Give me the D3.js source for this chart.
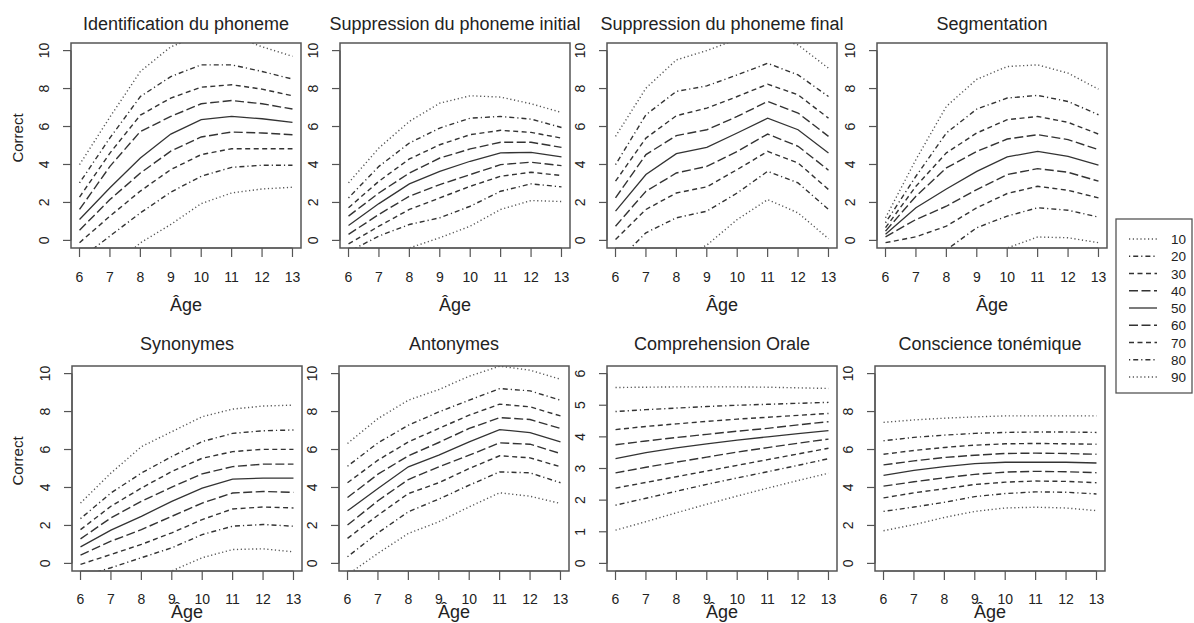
<!DOCTYPE html>
<html>
<head>
<meta charset="utf-8">
<script src="https://cdn.jsdelivr.net/npm/d3@7"></script>
<style>
  body { margin: 0; background: #fff; }
  svg { display: block; }
  text { font-family: "Liberation Sans", Arial, sans-serif; fill: #222; }
</style>
</head>
<body>
<script>
// ---------- DATA ----------
const ages = [6, 7, 8, 9, 10, 11, 12, 13];
const percentiles = [10, 20, 30, 40, 50, 60, 70, 80, 90];
const panelTitles = [
  "Identification du phoneme", "Suppression du phoneme initial",
  "Suppression du phoneme final", "Segmentation",
  "Synonymes", "Antonymes", "Comprehension Orale", "Conscience tonémique"
];
const yTicks10 = [0, 2, 4, 6, 8, 10];
const yTicks6 = [0, 1, 2, 3, 4, 5, 6];
const xTickLabels = ["6", "7", "8", "9", "10", "11", "12", "13"];
const legendLabels = ["10", "20", "30", "40", "50", "60", "70", "80", "90"];

// each array: rows = percentiles 10..90, columns = ages 6..13
const identificationPhoneme = [
  [-2.8, -1.5, -0.13, 0.84, 1.94, 2.5, 2.71, 2.8],
  [-1.0, 0.23, 1.45, 2.54, 3.38, 3.85, 3.96, 3.96],
  [-0.12, 1.28, 2.6, 3.73, 4.52, 4.83, 4.83, 4.83],
  [0.54, 2.15, 3.55, 4.7, 5.45, 5.71, 5.66, 5.57],
  [1.1, 2.77, 4.34, 5.6, 6.36, 6.53, 6.41, 6.22],
  [1.63, 3.9, 5.74, 6.53, 7.2, 7.37, 7.2, 6.92],
  [2.28, 4.6, 6.6, 7.5, 8.07, 8.2, 7.97, 7.62],
  [3.03, 5.4, 7.58, 8.63, 9.25, 9.25, 8.9, 8.5],
  [3.99, 6.5, 8.9, 10.2, 10.8, 10.8, 10.2, 9.7]
];
const suppressionInitial = [
  [-2.0, -1.2, -0.4, 0.14, 0.75, 1.63, 2.1, 2.05],
  [-0.6, 0.23, 0.84, 1.19, 1.8, 2.59, 2.98, 2.82],
  [-0.18, 0.75, 1.63, 2.24, 2.85, 3.38, 3.59, 3.42],
  [0.32, 1.37, 2.33, 2.94, 3.47, 3.99, 4.12, 3.94],
  [0.79, 1.94, 2.98, 3.64, 4.17, 4.61, 4.64, 4.4],
  [1.28, 2.5, 3.55, 4.34, 4.82, 5.17, 5.17, 4.9],
  [1.72, 3.12, 4.29, 5.04, 5.57, 5.8, 5.69, 5.39],
  [2.24, 3.9, 5.13, 5.92, 6.44, 6.53, 6.39, 5.95],
  [3.03, 4.87, 6.27, 7.23, 7.62, 7.55, 7.2, 6.74]
];
const suppressionFinal = [
  [-3.0, -1.8, -1.0, -0.25, 1.1, 2.15, 1.45, 0.09],
  [-1.2, 0.4, 1.19, 1.54, 2.5, 3.64, 3.03, 1.63],
  [0.05, 1.63, 2.5, 2.82, 3.73, 4.69, 4.08, 2.68],
  [0.75, 2.59, 3.55, 3.9, 4.69, 5.6, 4.96, 3.7],
  [1.54, 3.47, 4.57, 4.9, 5.66, 6.44, 5.83, 4.61],
  [2.24, 4.52, 5.52, 5.83, 6.53, 7.32, 6.71, 5.48],
  [3.12, 5.39, 6.57, 6.97, 7.58, 8.23, 7.67, 6.44],
  [3.99, 6.62, 7.85, 8.14, 8.72, 9.33, 8.72, 7.58],
  [5.48, 8.02, 9.51, 10.0, 10.6, 10.8, 10.3, 9.07]
];
const segmentation = [
  [-3.6, -2.8, -2.0, -1.2, -0.4, 0.18, 0.14, -0.12],
  [-2.5, -1.5, -0.5, 0.67, 1.28, 1.72, 1.59, 1.23],
  [-0.12, 0.19, 0.75, 1.72, 2.47, 2.85, 2.64, 2.24],
  [0.19, 1.1, 1.8, 2.68, 3.47, 3.78, 3.59, 3.12],
  [0.32, 1.72, 2.71, 3.64, 4.4, 4.69, 4.43, 3.96],
  [0.49, 2.33, 3.82, 4.69, 5.34, 5.57, 5.31, 4.78],
  [0.67, 2.85, 4.61, 5.66, 6.36, 6.53, 6.22, 5.6],
  [0.93, 3.38, 5.66, 6.92, 7.5, 7.64, 7.32, 6.62],
  [1.19, 4.26, 7.06, 8.49, 9.16, 9.25, 8.81, 7.97]
];
const synonymes = [
  [-2.8, -2.0, -1.2, -0.4, 0.3, 0.73, 0.77, 0.61],
  [-0.7, -0.23, 0.3, 0.82, 1.52, 1.96, 2.05, 1.96],
  [-0.05, 0.47, 1.0, 1.61, 2.31, 2.87, 2.97, 2.92],
  [0.44, 1.17, 1.78, 2.48, 3.18, 3.71, 3.79, 3.74],
  [0.87, 1.75, 2.48, 3.27, 3.97, 4.44, 4.49, 4.49],
  [1.29, 2.4, 3.27, 4.02, 4.72, 5.1, 5.23, 5.23],
  [1.78, 3.01, 3.97, 4.84, 5.54, 5.89, 6.01, 6.01],
  [2.36, 3.71, 4.76, 5.63, 6.42, 6.85, 6.99, 7.03],
  [3.18, 4.76, 6.15, 6.94, 7.73, 8.13, 8.29, 8.34]
];
const antonymes = [
  [-0.6, 0.53, 1.58, 2.19, 2.98, 3.72, 3.54, 3.16],
  [0.35, 1.61, 2.72, 3.39, 4.12, 4.82, 4.77, 4.25],
  [1.32, 2.54, 3.68, 4.25, 5.0, 5.67, 5.56, 5.09],
  [2.02, 3.3, 4.42, 5.09, 5.7, 6.35, 6.28, 5.79],
  [2.77, 3.95, 5.09, 5.7, 6.4, 7.05, 6.89, 6.4],
  [3.47, 4.7, 5.67, 6.37, 7.11, 7.68, 7.58, 7.11],
  [4.25, 5.44, 6.4, 7.11, 7.81, 8.39, 8.25, 7.77],
  [5.12, 6.35, 7.28, 7.98, 8.6, 9.21, 9.09, 8.6],
  [6.32, 7.63, 8.6, 9.16, 9.86, 10.39, 10.18, 9.7]
];
const comprehensionOrale = [
  [1.05, 1.32, 1.6, 1.87, 2.13, 2.38, 2.62, 2.85],
  [1.84, 2.06, 2.28, 2.5, 2.7, 2.9, 3.1, 3.31],
  [2.38, 2.56, 2.74, 2.92, 3.1, 3.28, 3.46, 3.64],
  [2.86, 3.04, 3.2, 3.36, 3.52, 3.66, 3.8, 3.93],
  [3.31, 3.5, 3.65, 3.78, 3.9, 4.0, 4.1, 4.2],
  [3.75, 3.87, 3.98, 4.08, 4.18, 4.27, 4.38, 4.48],
  [4.23, 4.33, 4.41, 4.49, 4.56, 4.62, 4.68, 4.74],
  [4.8, 4.86, 4.91, 4.96, 5.0, 5.03, 5.06, 5.09],
  [5.56, 5.57, 5.58, 5.58, 5.58, 5.57, 5.55, 5.53]
];
const conscienceTonemique = [
  [1.72, 2.04, 2.42, 2.74, 2.92, 2.96, 2.92, 2.78],
  [2.74, 2.97, 3.22, 3.52, 3.68, 3.77, 3.75, 3.66],
  [3.45, 3.72, 3.93, 4.16, 4.28, 4.34, 4.32, 4.25],
  [4.07, 4.3, 4.51, 4.69, 4.81, 4.85, 4.83, 4.78],
  [4.64, 4.9, 5.1, 5.26, 5.33, 5.33, 5.33, 5.29],
  [5.19, 5.4, 5.58, 5.7, 5.79, 5.81, 5.79, 5.75],
  [5.75, 5.95, 6.11, 6.23, 6.3, 6.32, 6.3, 6.28],
  [6.46, 6.64, 6.76, 6.85, 6.9, 6.92, 6.92, 6.9],
  [7.43, 7.56, 7.65, 7.72, 7.77, 7.77, 7.77, 7.77]
];

// ---------- LAYOUT / STYLE ----------
const W = 1194, H = 623;
const panels = [
  { title: panelTitles[0], data: identificationPhoneme, ymax: 10, ticks: yTicks10 },
  { title: panelTitles[1], data: suppressionInitial, ymax: 10, ticks: yTicks10 },
  { title: panelTitles[2], data: suppressionFinal, ymax: 10, ticks: yTicks10 },
  { title: panelTitles[3], data: segmentation, ymax: 10, ticks: yTicks10 },
  { title: panelTitles[4], data: synonymes, ymax: 10, ticks: yTicks10 },
  { title: panelTitles[5], data: antonymes, ymax: 10, ticks: yTicks10 },
  { title: panelTitles[6], data: comprehensionOrale, ymax: 6, ticks: yTicks6 },
  { title: panelTitles[7], data: conscienceTonemique, ymax: 10, ticks: yTicks10 }
];
const rows = [
  { top: 43, bottom: 248, lefts: [71, 340, 607, 877], titleY: 30, tickY: 282, ageY: 311, correctY: 138 },
  { top: 366, bottom: 571, lefts: [72, 339, 607, 875], titleY: 350, tickY: 604, ageY: 618, correctY: 461 }
];
const boxW = 230;
const dashes = {
  solid: null,
  dotted: "1.2,2.6",
  dotdash: "1.2,3,5,3",
  dashed: "5,3.5",
  longdash: "9,3.5"
};
const lineTypes = ["dotted", "dotdash", "dashed", "longdash", "solid", "longdash", "dashed", "dotdash", "dotted"];
const boxColor = "#555";
const lineColor = "#333";

const svg = d3.select("body").append("svg").attr("width", W).attr("height", H);
const defs = svg.append("defs");

panels.forEach((p, i) => {
  const row = rows[Math.floor(i / 4)];
  const left = row.lefts[i % 4];
  const pad = p.ymax * 0.04;
  const x = d3.scaleLinear().domain([5.72, 13.28]).range([left, left + boxW]);
  const y = d3.scaleLinear().domain([-pad, p.ymax + pad]).range([row.bottom, row.top]);
  const g = svg.append("g");

  const clipId = "clip" + i;
  defs.append("clipPath").attr("id", clipId)
    .append("rect").attr("x", left).attr("y", row.top)
    .attr("width", boxW).attr("height", row.bottom - row.top);

  // lines
  const line = d3.line().x((d, k) => x(ages[k])).y(d => y(d));
  const lg = g.append("g").attr("clip-path", `url(#${clipId})`);
  p.data.forEach((series, s) => {
    const lt = lineTypes[s];
    lg.append("path")
      .attr("d", line(series))
      .attr("fill", "none")
      .attr("stroke", lt === "dotted" ? "#555" : lineColor)
      .attr("stroke-width", lt === "solid" ? 1.3 : 1.4)
      .attr("stroke-dasharray", dashes[lt]);
  });

  // box
  g.append("rect").attr("x", left).attr("y", row.top)
    .attr("width", boxW).attr("height", row.bottom - row.top)
    .attr("fill", "none").attr("stroke", boxColor).attr("stroke-width", 1.5);

  // x axis
  const xa = g.append("g");
  xa.append("line").attr("x1", x(ages[0])).attr("x2", x(ages[ages.length - 1]))
    .attr("y1", row.bottom).attr("y2", row.bottom).attr("stroke", boxColor).attr("stroke-width", 1.2);
  ages.forEach((a, k) => {
    xa.append("line").attr("x1", x(a)).attr("x2", x(a))
      .attr("y1", row.bottom).attr("y2", row.bottom + 9)
      .attr("stroke", boxColor).attr("stroke-width", 1.2);
    xa.append("text").attr("x", x(a)).attr("y", row.tickY)
      .attr("text-anchor", "middle").attr("font-size", 14).text(xTickLabels[k]);
  });
  g.append("text").attr("x", left + boxW / 2).attr("y", row.ageY)
    .attr("text-anchor", "middle").attr("font-size", 18).text("Âge");

  // y axis
  const ya = g.append("g");
  ya.append("line").attr("x1", left).attr("x2", left)
    .attr("y1", y(p.ticks[0])).attr("y2", y(p.ticks[p.ticks.length - 1]))
    .attr("stroke", boxColor).attr("stroke-width", 1.2);
  p.ticks.forEach(t => {
    ya.append("line").attr("x1", left - 8).attr("x2", left)
      .attr("y1", y(t)).attr("y2", y(t)).attr("stroke", boxColor).attr("stroke-width", 1.2);
    const tx = left - 22, ty = y(t);
    ya.append("text").attr("transform", `translate(${tx},${ty}) rotate(-90)`)
      .attr("text-anchor", "middle").attr("font-size", 14).text(String(t));
  });

  // title
  g.append("text").attr("x", left + boxW / 2).attr("y", row.titleY)
    .attr("text-anchor", "middle").attr("font-size", 18).text(p.title);

  // y label on first column
  if (i % 4 === 0) {
    g.append("text").attr("transform", `translate(23,${row.correctY}) rotate(-90)`)
      .attr("text-anchor", "middle").attr("font-size", 15).text("Correct");
  }
});

// ---------- LEGEND ----------
const leg = svg.append("g");
leg.append("rect").attr("x", 1116).attr("y", 219).attr("width", 76).attr("height", 174)
  .attr("fill", "#fff").attr("stroke", boxColor).attr("stroke-width", 1.3);
const ly = d3.scalePoint().domain(legendLabels).range([239, 377]);
legendLabels.forEach((lab, s) => {
  const lt = lineTypes[s];
  leg.append("line").attr("x1", 1129).attr("x2", 1157)
    .attr("y1", ly(lab)).attr("y2", ly(lab))
    .attr("stroke", lt === "dotted" ? "#555" : lineColor).attr("stroke-width", 1.3)
    .attr("stroke-dasharray", dashes[lt]);
  leg.append("text").attr("x", 1171).attr("y", ly(lab) + 5)
    .attr("font-size", 13.5).text(lab);
});
</script>
</body>
</html>
